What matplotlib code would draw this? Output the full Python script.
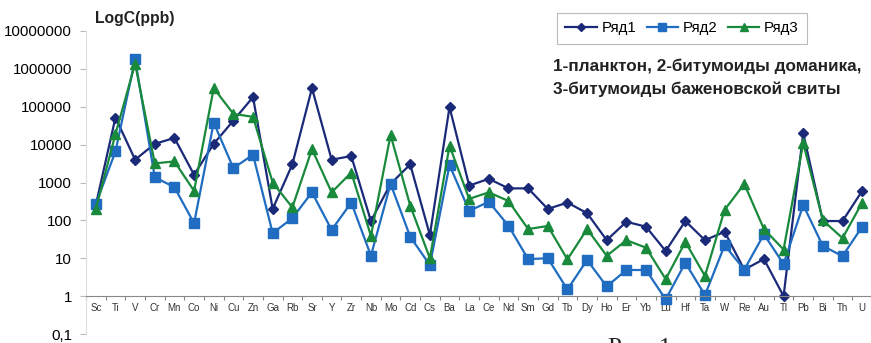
import matplotlib
matplotlib.use("Agg")
import matplotlib.pyplot as plt
from matplotlib.lines import Line2D

plt.rcParams['font.family'] = ['Liberation Sans', 'DejaVu Sans']

elements = ['Sc', 'Ti', 'V', 'Cr', 'Mn', 'Co', 'Ni', 'Cu', 'Zn', 'Ga',
            'Rb', 'Sr', 'Y', 'Zr', 'Nb', 'Mo', 'Cd', 'Cs', 'Ba', 'La',
            'Ce', 'Nd', 'Sm', 'Gd', 'Tb', 'Dy', 'Ho', 'Er', 'Yb', 'Lu',
            'Hf', 'Ta', 'W', 'Re', 'Au', 'Tl', 'Pb', 'Bi', 'Th', 'U']

# 1 - plankton
row1 = [255, 52000, 4000, 10500, 15000, 1600, 10500, 43000, 180000, 200,
        3000, 310000, 4000, 5000, 96, 920, 3000, 41, 98000, 830,
        1250, 700, 700, 200, 295, 155, 30, 92, 68, 15.5,
        96, 30, 50, 5, 9.5, 1, 20000, 96, 96, 600]
# 2 - domanik bitumoids
row2 = [270, 6600, 1800000, 1380, 750, 84, 38000, 2400, 5400, 46,
        114, 550, 56, 295, 11.7, 920, 37, 6.6, 2900, 178,
        310, 72, 9.5, 10, 1.5, 9, 1.8, 4.9, 4.9, 0.82,
        7.6, 1.06, 22, 5, 43, 7, 255, 21, 11.4, 68]
# 3 - bazhenov bitumoids
row3 = [200, 19000, 1370000, 3200, 3600, 600, 310000, 65000, 54000, 1000,
        220, 7600, 550, 1830, 39, 18000, 245, 10, 9300, 370,
        550, 325, 59, 71, 9.3, 59, 11.6, 30, 19, 2.8,
        27, 3.4, 190, 920, 59, 17, 11000, 100, 34, 295]

series_names = ['Ряд1', 'Ряд2', 'Ряд3']
ytick_values = [0.1, 1, 10, 100, 1000, 10000, 100000, 1000000, 10000000]
ytick_labels = ['0,1', '1', '10', '100', '1000', '10000', '100000', '1000000', '10000000']

colors = ['#1b2a78', '#1f6cc0', '#198a3c']
markers = ['D', 's', '^']
msizes = [5, 6.5, 6.5]

fig = plt.figure(figsize=(8.71, 3.43), dpi=100)
ax = fig.add_axes([86 / 871, 1 - 334 / 343, 786 / 871, 303 / 343])

x = list(range(len(elements)))
for vals, name, c, m, ms in zip([row1, row2, row3], series_names, colors, markers, msizes):
    ax.plot(x, vals, color=c, marker=m, markersize=ms, linewidth=1.6,
            markeredgecolor=c, label=name, clip_on=False)

ax.set_yscale('log')
ax.set_ylim(0.1, 1e7)
ax.set_xlim(-0.5, len(elements) - 0.5)
ax.set_yticks(ytick_values)
ax.set_yticklabels(ytick_labels, fontsize=10.8)
ax.yaxis.set_minor_locator(matplotlib.ticker.NullLocator())
ax.tick_params(axis='y', length=4, color='#bbbbbb', pad=6)

# x axis crosses at 1
ax.spines['bottom'].set_position(('data', 1))
ax.spines['bottom'].set_color('#888888')
ax.spines['left'].set_color('#dddddd')
ax.spines['top'].set_visible(False)
ax.spines['right'].set_visible(False)
ax.set_xticks([i - 0.5 for i in range(len(elements) + 1)])
ax.set_xticklabels([])
ax.set_xticks(x, minor=True)
ax.set_xticklabels(elements, minor=True, fontsize=7, color='#333333')
ax.tick_params(axis='x', which='major', length=3, color='#888888')
ax.tick_params(axis='x', which='minor', length=0, pad=5)

fig.text(95 / 871, 1 - 18 / 343, 'LogC(ppb)', fontsize=11.3, fontweight='bold',
         ha='left', va='center', color='#222222')

fig.text(553 / 871, 1 - 66 / 343, '1-планктон, 2-битумоиды доманика,',
         fontsize=12.3, fontweight='bold', ha='left', va='center', color='#222222')
fig.text(553 / 871, 1 - 89 / 343, '3-битумоиды баженовской свиты',
         fontsize=12.3, fontweight='bold', ha='left', va='center', color='#222222')

handles = [Line2D([], [], color=c, marker=m, markersize=ms * 0.8, linewidth=1.6)
           for c, m, ms in zip(colors, markers, msizes)]
leg = fig.legend(handles, series_names, loc='upper left',
                 bbox_to_anchor=(557 / 871, 1 - 13 / 343), ncol=3, borderaxespad=0,
                 fontsize=10.8, frameon=True, fancybox=False, borderpad=0.55,
                 handlelength=2.1, handletextpad=0.3, columnspacing=0.7)
leg.get_frame().set_edgecolor('#aaaaaa')
leg.get_frame().set_linewidth(0.8)

fig.text(640 / 871, 5 / 343, 'Рис. 1', fontsize=18, family='Liberation Serif',
         ha='center', va='top', color='#222222')

fig.savefig('out.png', dpi=100)
